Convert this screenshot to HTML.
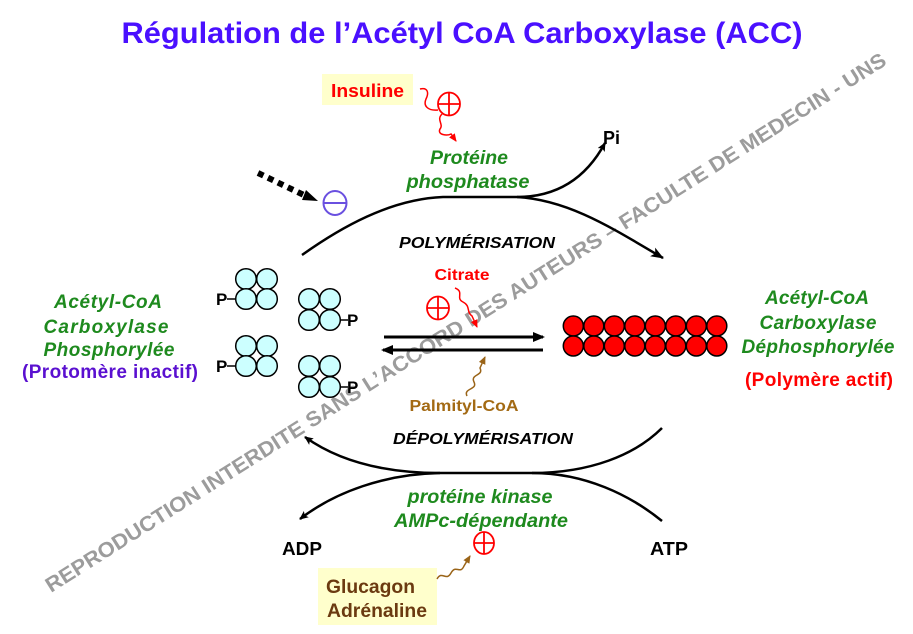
<!DOCTYPE html>
<html><head><meta charset="utf-8"><style>
html,body{margin:0;padding:0;background:#fff;}
svg{display:block;}
text{font-family:"Liberation Sans",Arial,sans-serif;font-weight:bold;}
</style></head><body>
<svg width="913" height="634" viewBox="0 0 913 634" xmlns="http://www.w3.org/2000/svg">
<defs>
<marker id="ah" markerWidth="13" markerHeight="10" refX="12" refY="5" orient="auto" markerUnits="userSpaceOnUse"><path d="M0,0 L13,5 L0,10 L3,5 z" fill="#000"/></marker>
<marker id="ahs" markerWidth="9" markerHeight="8" refX="8" refY="4" orient="auto" markerUnits="userSpaceOnUse"><path d="M0,0 L9,4 L0,8 L2,4 z" fill="#000"/></marker>
<marker id="ahr" markerWidth="8" markerHeight="7" refX="7" refY="3.5" orient="auto" markerUnits="userSpaceOnUse"><path d="M0,0 L8,3.5 L0,7 z" fill="#ff0000"/></marker>
<marker id="ahb" markerWidth="8" markerHeight="7" refX="7" refY="3.5" orient="auto" markerUnits="userSpaceOnUse"><path d="M0,0 L8,3.5 L0,7 z" fill="#9a6418"/></marker>
<marker id="ahd" markerWidth="12" markerHeight="10" refX="10" refY="5" orient="auto" markerUnits="userSpaceOnUse"><path d="M0,0 L12,5 L0,10 z" fill="#000"/></marker>
</defs>

<!-- watermark -->
<text x="51" y="593" transform="rotate(-32.3 51 593)" font-size="21" fill="#9c9c9c" textLength="990" lengthAdjust="spacingAndGlyphs">REPRODUCTION INTERDITE SANS L’ACCORD DES AUTEURS – FACULTE DE MEDECIN - UNS</text>

<!-- title -->
<text x="462" y="43" font-size="30" fill="#4a10ff" text-anchor="middle" textLength="681" lengthAdjust="spacingAndGlyphs">Régulation de l’Acétyl CoA Carboxylase (ACC)</text>

<!-- Insuline box -->
<rect x="322" y="74" width="91" height="31" fill="#ffffcc"/>
<text x="331" y="97" font-size="18" fill="#ff0000" textLength="73" lengthAdjust="spacingAndGlyphs">Insuline</text>
<ellipse cx="449" cy="104" rx="11" ry="11.5" fill="none" stroke="#ff0000" stroke-width="1.8"/>
<line x1="438" y1="104" x2="460" y2="104" stroke="#ff0000" stroke-width="1.8"/>
<line x1="449" y1="92.5" x2="449" y2="115.5" stroke="#ff0000" stroke-width="1.8"/>
<path d="M420,89 C428,87 429,93 426,99 C423,106 428,111 438,110 M442,114 C436,120 444,124 440,129 C437,135 447,136 451,134 L456,141" fill="none" stroke="#ff0000" stroke-width="1.5" marker-end="url(#ahr)"/>

<!-- Proteine phosphatase -->
<text x="469" y="164" font-size="19.5" font-style="italic" fill="#1e8a1e" text-anchor="middle" textLength="78" lengthAdjust="spacingAndGlyphs">Protéine</text>
<text x="468" y="188" font-size="19.5" font-style="italic" fill="#1e8a1e" text-anchor="middle" textLength="123" lengthAdjust="spacingAndGlyphs">phosphatase</text>
<text x="603" y="144" font-size="18" fill="#000" textLength="17" lengthAdjust="spacingAndGlyphs">Pi</text>

<!-- dotted arrow and minus -->
<line x1="258" y1="173" x2="308" y2="197" stroke="#000" stroke-width="6" stroke-dasharray="6,5" />
<path d="M306,190 L318,201 L302,200 z" fill="#000"/>
<ellipse cx="335" cy="203" rx="11.5" ry="12" fill="none" stroke="#6a50e0" stroke-width="2"/>
<line x1="323.5" y1="203" x2="346.5" y2="203" stroke="#6a50e0" stroke-width="2"/>

<!-- polymerisation curve -->
<path d="M302,255 C340,228 390,199 443,197 L517,197 C570,200 615,230 663,258" fill="none" stroke="#000" stroke-width="2.5" marker-end="url(#ah)"/>
<path d="M517,197 C555,197 585,180 605,143" fill="none" stroke="#000" stroke-width="2.5" marker-end="url(#ahs)"/>
<text x="477" y="248" font-size="16" font-style="italic" fill="#000" text-anchor="middle" textLength="156" lengthAdjust="spacingAndGlyphs">POLYMÉRISATION</text>

<!-- Citrate -->
<text x="462" y="280" font-size="16" fill="#ff0000" text-anchor="middle" textLength="55" lengthAdjust="spacingAndGlyphs">Citrate</text>
<ellipse cx="438" cy="308" rx="11" ry="11.5" fill="none" stroke="#ff0000" stroke-width="1.8"/>
<line x1="427" y1="308" x2="449" y2="308" stroke="#ff0000" stroke-width="1.8"/>
<line x1="438" y1="296.5" x2="438" y2="319.5" stroke="#ff0000" stroke-width="1.8"/>
<path d="M455,288 C465,292 455,298 463,302 C471,306 466,312 472,316 L477,327" fill="none" stroke="#ff0000" stroke-width="1.5" marker-end="url(#ahr)"/>

<!-- double arrows -->
<line x1="384" y1="337" x2="543" y2="337" stroke="#000" stroke-width="3" marker-end="url(#ahd)"/>
<line x1="543" y1="350" x2="383" y2="350" stroke="#000" stroke-width="3" marker-end="url(#ahd)"/>

<!-- Palmityl -->
<path d="M467,396 C463,388 478,390 474,382 C470,374 484,376 480,368 L485,357" fill="none" stroke="#9a6418" stroke-width="1.5" marker-end="url(#ahb)"/>
<text x="464" y="411" font-size="16" fill="#a36a14" text-anchor="middle" textLength="109" lengthAdjust="spacingAndGlyphs">Palmityl-CoA</text>

<!-- monomer clusters -->
<g fill="#ccffff" stroke="#000" stroke-width="1.5">
<circle cx="246" cy="279" r="10.3"/><circle cx="267" cy="279" r="10.3"/><circle cx="246" cy="299" r="10.3"/><circle cx="267" cy="299" r="10.3"/>
<circle cx="309" cy="299" r="10.3"/><circle cx="330" cy="299" r="10.3"/><circle cx="309" cy="320" r="10.3"/><circle cx="330" cy="320" r="10.3"/>
<circle cx="246" cy="346" r="10.3"/><circle cx="267" cy="346" r="10.3"/><circle cx="246" cy="366" r="10.3"/><circle cx="267" cy="366" r="10.3"/>
<circle cx="309" cy="366" r="10.3"/><circle cx="330" cy="366" r="10.3"/><circle cx="309" cy="387" r="10.3"/><circle cx="330" cy="387" r="10.3"/>
</g>
<g stroke="#000" stroke-width="1.5">
<line x1="227" y1="299" x2="236" y2="299"/>
<line x1="340" y1="320" x2="348" y2="320"/>
<line x1="227" y1="366" x2="236" y2="366"/>
<line x1="340" y1="387" x2="348" y2="387"/>
</g>
<g font-size="17" fill="#000">
<text x="216" y="305">P</text>
<text x="347" y="326">P</text>
<text x="216" y="372">P</text>
<text x="347" y="393">P</text>
</g>

<!-- polymer red circles -->
<g fill="#ff0000" stroke="#000" stroke-width="1.5">
<circle cx="573.3" cy="326" r="10"/><circle cx="593.8" cy="326" r="10"/><circle cx="614.3" cy="326" r="10"/><circle cx="634.8" cy="326" r="10"/><circle cx="655.3" cy="326" r="10"/><circle cx="675.8" cy="326" r="10"/><circle cx="696.3" cy="326" r="10"/><circle cx="716.8" cy="326" r="10"/>
<circle cx="573.3" cy="346" r="10"/><circle cx="593.8" cy="346" r="10"/><circle cx="614.3" cy="346" r="10"/><circle cx="634.8" cy="346" r="10"/><circle cx="655.3" cy="346" r="10"/><circle cx="675.8" cy="346" r="10"/><circle cx="696.3" cy="346" r="10"/><circle cx="716.8" cy="346" r="10"/>
</g>

<!-- left labels -->
<g font-size="19" text-anchor="middle" lengthAdjust="spacingAndGlyphs">
<text x="108" y="308" font-style="italic" fill="#1e8a1e" textLength="108">Acétyl-CoA</text>
<text x="106" y="333" font-style="italic" fill="#1e8a1e" textLength="125">Carboxylase</text>
<text x="109" y="356" font-style="italic" fill="#1e8a1e" textLength="131">Phosphorylée</text>
<text x="110" y="378" fill="#5a10d0" textLength="176">(Protomère inactif)</text>
</g>

<!-- right labels -->
<g font-size="19" text-anchor="middle" lengthAdjust="spacingAndGlyphs">
<text x="817" y="304" font-style="italic" fill="#1e8a1e" textLength="104">Acétyl-CoA</text>
<text x="818" y="329" font-style="italic" fill="#1e8a1e" textLength="117">Carboxylase</text>
<text x="818" y="353" font-style="italic" fill="#1e8a1e" textLength="153">Déphosphorylée</text>
<text x="819" y="386" fill="#ff0000" textLength="148">(Polymère actif)</text>
</g>

<!-- depolymerisation curves -->
<text x="483" y="444" font-size="16" font-style="italic" fill="#000" text-anchor="middle" textLength="180" lengthAdjust="spacingAndGlyphs">DÉPOLYMÉRISATION</text>
<path d="M662,428 C635,455 590,473 532,473 L440,473 C385,473 340,462 305,437" fill="none" stroke="#000" stroke-width="2.5" marker-end="url(#ahs)"/>
<path d="M662,521 C630,495 585,473 532,473 M440,473 C385,474 335,492 300,519" fill="none" stroke="#000" stroke-width="2.5" marker-end="url(#ahs)"/>

<text x="480" y="503" font-size="19.5" font-style="italic" fill="#1e8a1e" text-anchor="middle" textLength="145" lengthAdjust="spacingAndGlyphs">protéine kinase</text>
<text x="481" y="527" font-size="19.5" font-style="italic" fill="#1e8a1e" text-anchor="middle" textLength="174" lengthAdjust="spacingAndGlyphs">AMPc-dépendante</text>
<text x="282" y="555" font-size="18" fill="#000" textLength="40" lengthAdjust="spacingAndGlyphs">ADP</text>
<text x="650" y="555" font-size="18" fill="#000" textLength="38" lengthAdjust="spacingAndGlyphs">ATP</text>

<ellipse cx="484" cy="543" rx="10" ry="11" fill="none" stroke="#ff0000" stroke-width="1.8"/>
<line x1="474" y1="543" x2="494" y2="543" stroke="#ff0000" stroke-width="1.8"/>
<line x1="484" y1="532" x2="484" y2="554" stroke="#ff0000" stroke-width="1.8"/>

<!-- Glucagon box -->
<rect x="318" y="568" width="119" height="57" fill="#ffffcc"/>
<text x="326" y="593" font-size="19" fill="#6b3a10" textLength="89" lengthAdjust="spacingAndGlyphs">Glucagon</text>
<text x="327" y="617" font-size="19" fill="#6b3a10" textLength="100" lengthAdjust="spacingAndGlyphs">Adrénaline</text>
<path d="M437,579 C442,570 446,582 451,573 C456,564 460,575 464,566 L470,556" fill="none" stroke="#9a6418" stroke-width="1.5" marker-end="url(#ahb)"/>
</svg>
</body></html>
